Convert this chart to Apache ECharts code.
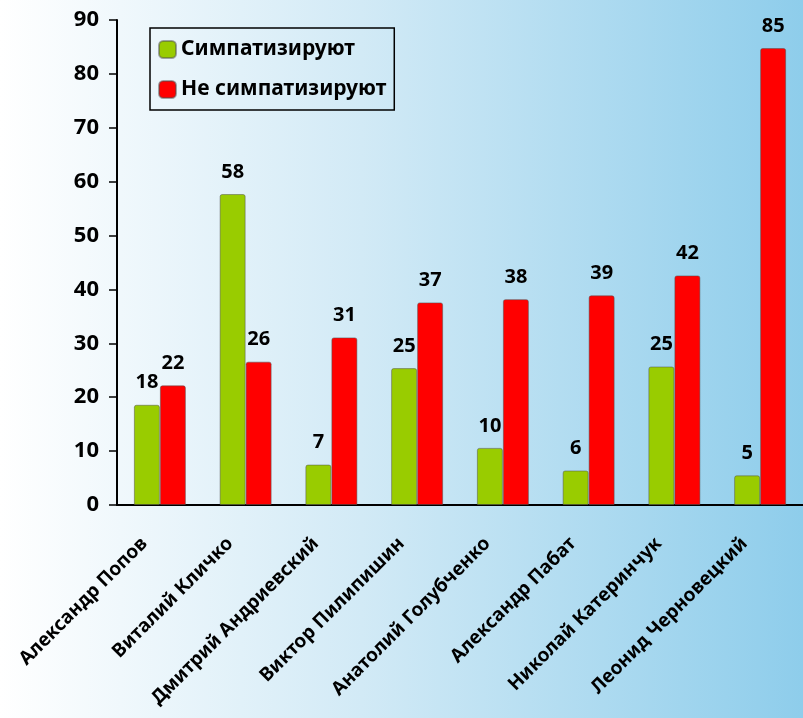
<!DOCTYPE html>
<html>
<head>
<meta charset="utf-8">
<script src="https://cdn.jsdelivr.net/npm/echarts@6/dist/echarts.min.js"></script>
<style>
  html, body { margin: 0; padding: 0; }
  #chart { width: 803px; height: 718px; }
</style>
</head>
<body>
<div id="chart"></div>
<script>
  var categories = ['Александр Попов', 'Виталий Кличко', 'Дмитрий Андриевский', 'Виктор Пилипишин',
    'Анатолий Голубченко', 'Александр Пабат', 'Николай Катеринчук', 'Леонид Черновецкий'];
  // bar heights
  var sympathize = [18.6, 57.7, 7.5, 25.4, 10.6, 6.4, 25.7, 5.5];
  var notSympathize = [22.2, 26.6, 31.1, 37.6, 38.2, 38.9, 42.6, 84.8];
  // printed value labels
  var sympathizeLabels = [18, 58, 7, 25, 10, 6, 25, 5];
  var notSympathizeLabels = [22, 26, 31, 37, 38, 39, 42, 85];

  var font = 'Noto Sans';
  var chart = echarts.init(document.getElementById('chart'));

  var option = {
    backgroundColor: {
      type: 'linear', x: 0, y: 0, x2: 1, y2: 0,
      colorStops: [
        { offset: 0, color: '#ffffff' },
        { offset: 0.45, color: '#d2eaf6' },
        { offset: 1, color: '#8ecdeb' }
      ]
    },
    textStyle: { fontFamily: font },
    legend: {
      orient: 'vertical',
      left: 150,
      top: 28,
      padding: [11, 8, 10, 8],
      itemGap: 19,
      itemWidth: 17,
      itemHeight: 17,
      borderColor: '#000',
      borderWidth: 1.5,
      icon: 'roundRect',
      textStyle: { fontFamily: font, fontSize: 21, fontWeight: 'bold', color: '#000' },
      data: ['Симпатизируют', 'Не симпатизируют']
    },
    grid: { left: 117, right: -7, top: 20, bottom: 213 },
    xAxis: {
      type: 'category',
      data: categories,
      axisLine: { lineStyle: { color: '#000', width: 2 } },
      axisTick: { length: 8, lineStyle: { color: '#000', width: 1.5 } },
      axisLabel: {
        rotate: 45, interval: 0, margin: 20, padding: [0, 22, 0, 0],
        color: '#000', fontFamily: font, fontSize: 19, fontWeight: 'bold'
      }
    },
    yAxis: {
      type: 'value',
      min: 0, max: 90, interval: 10,
      splitLine: { show: false },
      axisLine: { show: true, lineStyle: { color: '#000', width: 2 } },
      axisTick: { show: true, length: 8, lineStyle: { color: '#000', width: 1.5 } },
      axisLabel: { color: '#000', fontFamily: font, fontSize: 22, fontWeight: 'bold', margin: 18 }
    },
    series: [
      {
        name: 'Симпатизируют',
        type: 'bar',
        data: sympathize,
        barWidth: 26,
        barGap: '0%',
        itemStyle: { color: '#99cc00', borderColor: 'rgba(80,80,80,0.5)', borderWidth: 1, borderRadius: [2, 2, 0, 0] },
        label: {
          show: true, position: 'top', distance: 12,
          color: '#000', fontFamily: font, fontSize: 20, fontWeight: 'bold',
          formatter: function (p) { return sympathizeLabels[p.dataIndex]; }
        }
      },
      {
        name: 'Не симпатизируют',
        type: 'bar',
        data: notSympathize,
        barWidth: 26,
        itemStyle: { color: '#ff0000', borderColor: 'rgba(80,80,80,0.5)', borderWidth: 1, borderRadius: [2, 2, 0, 0] },
        label: {
          show: true, position: 'top', distance: 12,
          color: '#000', fontFamily: font, fontSize: 20, fontWeight: 'bold',
          formatter: function (p) { return notSympathizeLabels[p.dataIndex]; }
        }
      }
    ]
  };

  chart.setOption(option);
</script>
</body>
</html>
